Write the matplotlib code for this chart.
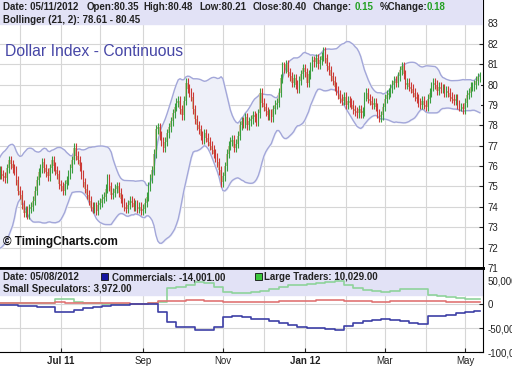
import numpy as np
import pandas as pd
import matplotlib
matplotlib.use("Agg")
import matplotlib.pyplot as plt
from matplotlib.patches import Rectangle

plt.rcParams["font.family"] = ["Liberation Sans", "DejaVu Sans"]

# daily closes of the Dollar Index, 17 May 2011 .. 11 May 2012 (business days)
lead_closes = [73.5, 73.3, 73.2, 73.0, 72.9, 73.0, 73.2, 72.9, 72.8, 73.5,
               74.0, 74.3, 74.6, 74.9, 75.0, 75.3, 75.5, 75.6, 75.9, 75.7]
closes = [
    75.8, 75.6, 75.5, 75.4, 75.9, 76.3, 76.1, 75.9, 75.8, 75.3,
    74.8, 74.6, 74.1, 73.7, 73.8, 73.6, 73.9, 74.0, 74.3, 74.8,
    75.3, 75.7, 75.9, 76.2, 75.9, 75.7, 75.5, 75.9, 76.3, 76.0,
    75.8, 75.6, 75.1, 75.0, 74.8, 75.1, 75.3, 75.6, 75.9, 76.3,
    76.9, 76.5, 76.3, 76.0, 75.6, 75.2, 74.9, 74.6, 74.3, 74.0,
    73.9, 74.0, 73.8, 74.1, 74.2, 74.4, 74.5, 74.9, 75.4, 75.0,
    74.6, 74.7, 74.9, 75.0, 74.7, 74.4, 74.2, 74.0, 73.9, 74.1,
    74.3, 74.2, 74.0, 74.1, 73.9, 74.0, 73.8, 73.9, 74.2, 74.5,
    75.0, 75.4, 75.8, 76.6, 77.8, 77.9, 77.5, 77.2, 76.9, 77.2,
    77.6, 77.9, 78.2, 78.6, 78.9, 79.1, 79.2, 78.8, 78.5, 79.2,
    80.1, 79.8, 79.6, 79.4, 78.8, 78.3, 78.0, 77.8, 77.5, 77.3,
    77.6, 77.4, 77.2, 77.0, 76.8, 76.6, 76.4, 76.2, 75.8, 75.2,
    75.5, 76.0, 76.6, 77.0, 77.2, 77.3, 76.9, 77.1, 77.5, 78.0,
    78.2, 78.1, 78.4, 78.0, 78.2, 78.3, 78.5, 78.4, 78.2, 78.6,
    79.6, 79.1, 78.9, 78.7, 78.5, 78.6, 78.4, 78.8, 79.0, 79.1,
    79.6, 80.3, 80.9, 80.8, 81.0, 80.6, 80.4, 80.1, 80.3, 80.0,
    79.8, 80.2, 80.5, 80.8, 80.6, 80.1, 80.5, 80.9, 81.2, 81.1,
    81.3, 81.0, 81.2, 81.4, 81.6, 81.3, 80.9, 80.7, 80.4, 80.2,
    79.9, 79.7, 79.5, 79.3, 79.2, 79.4, 79.0, 79.2, 79.1, 79.0,
    78.8, 78.7, 78.6, 78.8, 78.6, 78.7, 79.4, 79.6, 79.3, 79.2,
    79.0, 79.1, 78.9, 78.6, 78.4, 78.5, 78.9, 79.3, 79.5, 79.6,
    79.8, 80.0, 80.2, 80.1, 80.4, 80.7, 80.9, 80.5, 80.0, 80.1,
    79.9, 79.8, 79.6, 79.4, 79.3, 79.1, 79.0, 79.2, 79.0, 78.9,
    79.3, 79.6, 79.9, 80.1, 80.0, 79.7, 79.9, 79.8, 79.8, 79.6,
    79.7, 79.6, 79.4, 79.3, 79.2, 79.3, 79.0, 78.9, 78.9, 78.8,
    79.1, 79.5, 79.6, 79.9, 79.9, 80.0, 80.2, 80.35, 80.40,
]
first_open = 75.6
bar_spread = 0.22

# weekly COT net positions (contracts)
commercials = [-2000, -3000, -5000, -5000, -6000, -6000, -17000, -17000, -12000, -8000,
               -6000, -4000, -3000, -2000, -1000, 0, 0, -17000, -37000, -48000,
               -48000, -54000, -54000, -48000, -27000, -26000, -27000, -31000, -32000, -36000,
               -39000, -44000, -47000, -50000, -50000, -53000, -54000, -46000, -40000, -35000,
               -34000, -31000, -33000, -36000, -40000, -42000, -26000, -25000, -22000, -19000,
               -16000, -14001]
large_traders = [2000, 2000, 3000, 3000, 3000, 3000, 11000, 10000, 4000, 3000,
                 3000, 1000, 0, 0, 0, 1000, 2000, 5000, 33000, 36000,
                 40000, 46000, 44000, 35000, 24000, 22000, 23000, 25000, 28000, 32000,
                 36000, 39000, 40000, 42000, 44000, 45000, 47000, 40000, 34000, 30000,
                 27000, 25000, 28000, 31000, 32000, 31000, 18000, 17000, 15000, 13000,
                 11000, 10029]
small_specs = [2000, 2000, 2000, 2000, 3000, 3000, 4000, 3000, 3000, 3000,
               2000, 2000, 2000, 2000, 1000, 1000, 2000, 6000, 7000, 7000,
               8000, 8000, 7000, 6000, 5000, 4000, 4000, 4000, 5000, 5000,
               6000, 6000, 7000, 7000, 8000, 8000, 8000, 7000, 6000, 6000,
               5000, 5000, 6000, 6000, 7000, 7000, 6000, 6000, 5000, 5000,
               4000, 3972]

n = len(closes)
dates = pd.bdate_range("2011-05-17", periods=n)
idx = np.arange(n)
c = np.array(closes)
o = np.array([first_open] + closes[:-1])
hi = np.maximum(o, c) + bar_spread
lo = np.minimum(o, c) - bar_spread

full = pd.Series(lead_closes + closes)
mid = full.rolling(21).mean()
sd = full.rolling(21).std(ddof=0)
upper = (mid + 2 * sd).values[-n:]
lower = (mid - 2 * sd).values[-n:]

W, H = 512, 384
fig = plt.figure(figsize=(W / 100, H / 100), dpi=100)
ax1 = fig.add_axes([0, 1 - 268 / H, 483 / W, 268 / H])
ax2 = fig.add_axes([0, 1 - 352 / H, 483 / W, 84 / H])

month_pos = [i for i in range(1, n) if dates[i].month != dates[i - 1].month]
lab_pos = [i for i in month_pos if dates[i].month % 2 == 1]
lab_txt = []
for i in lab_pos:
    d = dates[i]
    lab_txt.append(d.strftime("%b %y") if d.month in (1, 7) else d.strftime("%b"))

grid_c = "#d6d6d6"
band_c = "#e2e2f6"

# ---- top panel
ax1.fill_between(idx, lower, upper, color="#eef0f9", zorder=1)
ax1.plot(idx, upper, color="#a3a7d9", lw=1, zorder=2)
ax1.plot(idx, lower, color="#a3a7d9", lw=1, zorder=2)
cols = np.where(c >= o, "#3a9e40", "#cc3a36")
ax1.bar(idx, c - o, bottom=o, width=0.8, color="#cdbd9c", zorder=3)
ax1.vlines(idx, lo, hi, colors=cols, lw=0.8, zorder=4)
ax1.axhspan(82.98, 84.2, color=band_c, zorder=5)

ax1.set_xlim(0.26, 259.7)
ax1.set_ylim(71, 84.15)
ax1.set_yticks(range(71, 84))
ax1.yaxis.tick_right()
ax1.tick_params(axis="y", direction="in", length=3, pad=3, labelsize=7, colors="#222222")
ax1.set_xticks(month_pos)
ax1.tick_params(axis="x", length=0, labelbottom=False)
ax1.grid(True, color=grid_c, lw=0.8, zorder=0)
ax1.set_axisbelow(True)
for s in ["left", "top"]:
    ax1.spines[s].set_visible(False)
ax1.spines["right"].set_color("black")
ax1.spines["bottom"].set_linewidth(2)

# ---- bottom panel
wk = list(idx[::5][:len(commercials)]) + [n - 1]
ax2.axhspan(18750, 76000, color=band_c, zorder=1)
ax2.plot(wk, large_traders + [large_traders[-1]], drawstyle="steps-post", color="#8fd39b", lw=1.2, zorder=3)
ax2.plot(wk, small_specs + [small_specs[-1]], drawstyle="steps-post", color="#e07474", lw=1.2, zorder=3)
ax2.plot(wk, commercials + [commercials[-1]], drawstyle="steps-post", color="#3d3fa6", lw=1.2, zorder=3)
ax2.set_xlim(0.26, 259.7)
ax2.set_ylim(-100000, 75000)
ax2.set_yticks([50000, 0, -50000, -100000])
ax2.set_yticklabels(["50,000", "0", "-50,000", "-100,000"])
ax2.yaxis.tick_right()
ax2.tick_params(axis="y", direction="in", length=3, pad=3, labelsize=7, colors="#222222")
ax2.set_xticks(lab_pos)
ax2.set_xticklabels(lab_txt)
ax2.set_xticks(month_pos, minor=True)
ax2.tick_params(axis="x", which="major", direction="in", length=3, pad=3, labelsize=7, colors="#222222")
ax2.tick_params(axis="x", which="minor", length=0)
for t in ax2.get_xticklabels():
    if " " in t.get_text():
        t.set_fontweight("bold")
ax2.grid(True, which="both", color=grid_c, lw=0.8, zorder=0)
ax2.set_axisbelow(True)
ax2.spines["left"].set_visible(False)
ax2.spines["top"].set_linewidth(2)


def px(x, y):
    return x / W, 1 - y / H


hdr = dict(fontsize=7, fontweight="bold", color="#222222", va="center", ha="left")
green = "#22a022"
fig.text(*px(3, 7), "Date: 05/11/2012", **hdr)
fig.text(*px(87, 7), "Open:80.35", **hdr)
fig.text(*px(143, 7), "High:80.48", **hdr)
fig.text(*px(199, 7), "Low:80.21", **hdr)
fig.text(*px(253, 7), "Close:80.40", **hdr)
fig.text(*px(313, 7), "Change:", **hdr)
fig.text(*px(355, 7), "0.15", **{**hdr, "color": green})
fig.text(*px(380, 7), "%Change:", **hdr)
fig.text(*px(427, 7), "0.18", **{**hdr, "color": green})
fig.text(*px(3, 20), "Bollinger (21, 2): 78.61 - 80.45", **hdr)

fig.text(*px(5, 51), "Dollar Index - Continuous", fontsize=11.3, color="#4646a6", va="center", ha="left")
fig.text(*px(3, 242), "\u00a9 TimingCharts.com", fontsize=8.5, fontweight="bold", color="#111111",
         va="center", ha="left")

fig.text(*px(3, 277), "Date: 05/08/2012", **hdr)
fig.add_artist(Rectangle(px(101, 280), 7 / W, 7 / H, transform=fig.transFigure,
                         facecolor="#1414a0", edgecolor="#111111", lw=0.6))
fig.text(*px(112, 277), "Commercials: -14,001.00", **hdr)
fig.add_artist(Rectangle(px(255, 280), 7 / W, 7 / H, transform=fig.transFigure,
                         facecolor="#3cc83c", edgecolor="#111111", lw=0.6))
fig.text(*px(264, 277), "Large Traders: 10,029.00", **hdr)
fig.text(*px(3, 289), "Small Speculators: 3,972.00", **hdr)

fig.savefig("out.png", dpi=100)
